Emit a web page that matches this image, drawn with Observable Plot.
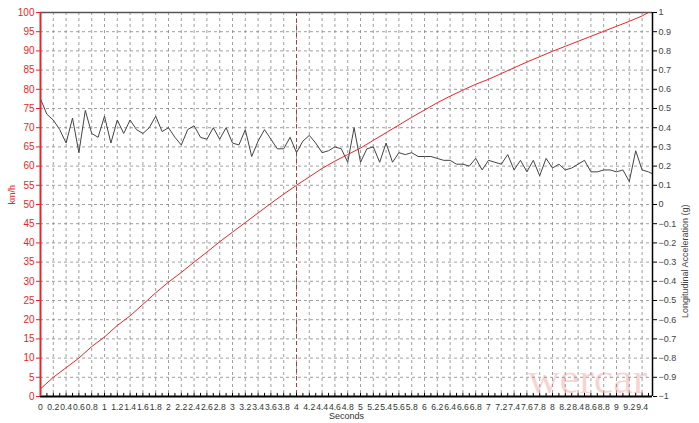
<!DOCTYPE html>
<html><head><meta charset="utf-8">
<script src="https://cdn.jsdelivr.net/npm/d3@7"></script>
<script src="https://cdn.jsdelivr.net/npm/@observablehq/plot@0.6"></script>
<style>
html,body{margin:0;padding:0;background:#fff;}
#chart{width:699px;height:423px;}
</style></head><body><div id="chart"></div>
<script>
// Speed (km/h) vs time (s)
const speedTime = [0,0.2,0.4,0.6,0.8,1.0,1.2,1.4,1.6,1.8,2.0,2.2,2.4,2.6,2.8,3.0,3.2,3.4,3.6,3.8,4.0,4.2,4.4,4.6,4.8,5.0,5.2,5.4,5.6,5.8,6.0,6.2,6.4,6.6,6.8,7.0,7.2,7.4,7.6,7.8,8.0,8.2,8.4,8.6,8.8,9.0,9.2,9.4,9.5];
const speedKmh = [2,5,7.5,10,13,15.5,18.5,21,24,27,29.8,32.3,35,37.6,40.3,42.8,45.3,47.8,50.3,52.7,55,57.2,59.4,61.3,63,64.7,66.7,68.7,70.7,72.7,74.6,76.5,78.2,79.8,81.3,82.6,84.1,85.6,87.1,88.5,89.9,91.2,92.5,93.8,95.1,96.4,97.7,99.1,100];
// Longitudinal acceleration (g) vs time (s)
const accelTime = [0,0.1,0.2,0.3,0.4,0.5,0.6,0.7,0.8,0.9,1.0,1.1,1.2,1.3,1.4,1.5,1.6,1.7,1.8,1.9,2.0,2.1,2.2,2.3,2.4,2.5,2.6,2.7,2.8,2.9,3.0,3.1,3.2,3.3,3.4,3.5,3.6,3.7,3.8,3.9,4.0,4.1,4.2,4.3,4.4,4.5,4.6,4.7,4.8,4.9,5.0,5.1,5.2,5.3,5.4,5.5,5.6,5.7,5.8,5.9,6.0,6.1,6.2,6.3,6.4,6.5,6.6,6.7,6.8,6.9,7.0,7.1,7.2,7.3,7.4,7.5,7.6,7.7,7.8,7.9,8.0,8.1,8.2,8.3,8.4,8.5,8.6,8.7,8.8,8.9,9.0,9.1,9.2,9.3,9.4,9.5,9.56];
const accelG = [0.55,0.47,0.44,0.39,0.32,0.45,0.27,0.49,0.37,0.35,0.46,0.32,0.44,0.37,0.44,0.39,0.37,0.40,0.46,0.38,0.40,0.35,0.31,0.39,0.41,0.35,0.34,0.40,0.34,0.40,0.32,0.31,0.39,0.25,0.33,0.39,0.34,0.29,0.29,0.35,0.27,0.33,0.36,0.32,0.27,0.28,0.30,0.29,0.22,0.40,0.22,0.29,0.30,0.22,0.32,0.22,0.27,0.26,0.27,0.25,0.25,0.25,0.24,0.23,0.23,0.21,0.21,0.20,0.24,0.18,0.23,0.22,0.21,0.26,0.18,0.23,0.17,0.23,0.15,0.24,0.19,0.21,0.18,0.19,0.21,0.23,0.17,0.17,0.18,0.18,0.17,0.18,0.12,0.28,0.18,0.17,0.16];
// Axis ticks
const xTicks = [0,0.2,0.4,0.6,0.8,1,1.2,1.4,1.6,1.8,2,2.2,2.4,2.6,2.8,3,3.2,3.4,3.6,3.8,4,4.2,4.4,4.6,4.8,5,5.2,5.4,5.6,5.8,6,6.2,6.4,6.6,6.8,7,7.2,7.4,7.6,7.8,8,8.2,8.4,8.6,8.8,9,9.2,9.4];
const kmhTicks = [0,5,10,15,20,25,30,35,40,45,50,55,60,65,70,75,80,85,90,95,100];
const gTicks = [-1,-0.9,-0.8,-0.7,-0.6,-0.5,-0.4,-0.3,-0.2,-0.1,0,0.1,0.2,0.3,0.4,0.5,0.6,0.7,0.8,0.9,1];
const cursorTime = 4;
const xMax = 9.5625;

const gToY = g => (g + 1) * 50;
const fmt = d3.format("~g");
const speedData = speedTime.map((t, i) => ({t, v: speedKmh[i]}));
const accelData = accelTime.map((t, i) => ({t, y: gToY(accelG[i])}));
const red = "#e8262a";

const chart = Plot.plot({
  width: 699, height: 423,
  marginLeft: 40, marginRight: 47, marginTop: 12, marginBottom: 27,
  style: {fontFamily: "'Liberation Sans', Arial, sans-serif", fontSize: "10px", background: "#fff", overflow: "visible"},
  x: {domain: [0, xMax]},
  y: {domain: [0, 100]},
  marks: [
    Plot.gridX(xTicks, {stroke: "#888", strokeOpacity: 1, strokeDasharray: "3,3", strokeWidth: 0.8}),
    Plot.gridY(kmhTicks, {stroke: "#888", strokeOpacity: 1, strokeDasharray: "3,3", strokeWidth: 0.8}),
    Plot.ruleX([cursorTime], {stroke: "#a04040", strokeDasharray: "4,3", strokeWidth: 1}),
    Plot.ruleY([100], {stroke: "#555", strokeWidth: 1.5}),
    Plot.text(["wercar"], {frameAnchor: "bottom-right", dx: -5, dy: -4, fill: "#e05050", fillOpacity: 0.25, fontSize: 44, fontFamily: "'Liberation Serif', serif", textAnchor: "end"}),
    Plot.line(accelData, {x: "t", y: "y", stroke: "#444", strokeWidth: 1}),
    Plot.line(speedData, {x: "t", y: "v", stroke: red, strokeWidth: 1}),
    Plot.ruleX(accelTime.slice(0, 96), {y1: 0, y2: 0.8, stroke: "#000", strokeWidth: 1}),
    Plot.ruleY([0], {stroke: "#000", strokeWidth: 2}),
    Plot.axisX(xTicks, {tickSize: 0, tickPadding: 7, tickFormat: d => fmt(d), label: null, fill: "#333", fontSize: 8.6}),
    Plot.axisY(kmhTicks, {anchor: "left", tickSize: 4, tickPadding: 2, stroke: red, fill: red, label: null}),
    Plot.ruleX([0], {stroke: red, strokeWidth: 2}),
    Plot.axisY(gTicks.map(gToY), {anchor: "right", tickSize: 4, tickPadding: 2, stroke: "#000", fill: "#444", label: null, fontSize: 9,
      tickFormat: d => fmt(+(d / 50 - 1).toFixed(1))}),
    Plot.ruleX([xMax], {stroke: "#000", strokeWidth: 1.5}),
    Plot.text(["km/h"], {frameAnchor: "left", rotate: -90, dx: -28, fill: red, fontSize: 9}),
    Plot.text(["Longitudinal Acceleration (g)"], {frameAnchor: "right", rotate: -90, dx: 33, fill: "#444", fontSize: 9}),
    Plot.text(["Seconds"], {frameAnchor: "bottom", dy: 22, fill: "#333", fontSize: 9})
  ]
});
document.getElementById("chart").append(chart);
</script>
</body></html>
